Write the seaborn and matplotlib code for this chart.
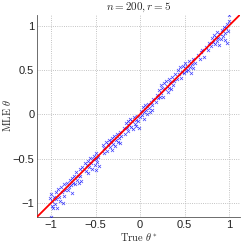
import matplotlib
matplotlib.use("Agg")
import matplotlib.pyplot as plt
import seaborn as sns
import pandas as pd

# true theta* vs MLE estimate
true_theta = [
    -1.00, -0.99, -0.98, -1.00, -0.97, -0.96, -0.95, -0.94, -0.93, -0.92,
    -0.91, -0.90, -0.89, -0.88, -0.87, -0.86, -0.85, -0.84, -1.01, -0.99,
    -0.82, -0.81, -0.80, -0.79, -0.78, -0.77, -0.76, -0.75, -0.74, -0.73,
    -0.72, -0.71, -0.70, -0.69, -0.68, -0.67, -0.66, -0.65,
    -0.62, -0.61, -0.60, -0.59, -0.58, -0.57, -0.56, -0.55, -0.54, -0.53,
    -0.52, -0.51, -0.50, -0.50, -0.49, -0.48, -0.47, -0.46,
    -0.42, -0.41, -0.40, -0.38, -0.37, -0.36, -0.35, -0.34, -0.33, -0.32,
    -0.31, -0.30, -0.29, -0.28, -0.27, -0.26, -0.25, -0.24, -0.23, -0.22, -0.21,
    -0.18, -0.17, -0.16, -0.15, -0.14, -0.13, -0.12, -0.11, -0.10, -0.09,
    -0.08, -0.07, -0.06, -0.05, -0.04, -0.03, -0.02, -0.01,
    0.00, 0.01, 0.02, 0.03, 0.04, 0.05, 0.06, 0.07, 0.08, 0.09,
    0.10, 0.11, 0.12, 0.13, 0.14, 0.15,
    0.18, 0.19, 0.20, 0.21, 0.22, 0.23, 0.24, 0.25, 0.26, 0.27,
    0.28, 0.29, 0.30, 0.31, 0.32, 0.33, 0.34, 0.35, 0.36, 0.37, 0.38, 0.39,
    0.42, 0.43, 0.44, 0.45, 0.46, 0.47, 0.48, 0.49, 0.50, 0.51,
    0.52, 0.53, 0.54, 0.55, 0.56, 0.57, 0.58, 0.59, 0.60, 0.62,
    0.65, 0.67, 0.68, 0.70, 0.72, 0.74, 0.76, 0.78,
    0.80, 0.81, 0.82, 0.83, 0.84, 0.85, 0.86, 0.87, 0.88, 0.89,
    0.90, 0.91, 0.92, 0.93, 0.94, 0.95, 0.96, 0.97, 0.98, 0.99,
    1.00, 1.00, 0.98,
]
mle_theta = [
    -0.90, -0.98, -1.06, -1.16, -0.93, -1.01, -0.88, -0.96, -1.06, -0.84,
    -0.93, -0.98, -0.82, -0.88, -1.00, -0.92, -0.79, -0.85, -0.95, -1.03,
    -0.77, -0.86, -0.82, -0.74, -0.80, -0.89, -0.72, -0.77, -0.70, -0.79,
    -0.65, -0.74, -0.70, -0.77, -0.62, -0.70, -0.75, -0.60,
    -0.55, -0.64, -0.57, -0.66, -0.53, -0.60, -0.49, -0.55, -0.62, -0.51,
    -0.47, -0.57, -0.50, -0.63, -0.44, -0.54, -0.48, -0.58,
    -0.35, -0.44, -0.38, -0.31, -0.42, -0.34, -0.29, -0.37, -0.30, -0.40,
    -0.27, -0.33, -0.25, -0.36, -0.29, -0.22, -0.31, -0.27, -0.20, -0.32, -0.24,
    -0.15, -0.22, -0.10, -0.16, -0.08, -0.19, -0.12, -0.05, -0.14, -0.08,
    -0.17, -0.03, -0.11, -0.07, -0.13, -0.02, -0.08, -0.15,
    -0.03, 0.04, -0.01, 0.08, 0.02, -0.05, 0.10, 0.05, 0.00, 0.12,
    0.07, 0.02, 0.14, 0.10, 0.05, 0.17,
    0.14, 0.22, 0.18, 0.27, 0.19, 0.33, 0.24, 0.30, 0.20, 0.35,
    0.28, 0.37, 0.32, 0.25, 0.40, 0.30, 0.36, 0.29, 0.42, 0.33, 0.38, 0.45,
    0.40, 0.50, 0.45, 0.53, 0.41, 0.48, 0.55, 0.46, 0.52, 0.58,
    0.49, 0.55, 0.50, 0.60, 0.53, 0.46, 0.57, 0.62, 0.52, 0.58,
    0.67, 0.62, 0.70, 0.73, 0.65, 0.76, 0.72, 0.80,
    0.77, 0.86, 0.82, 0.90, 0.79, 0.87, 0.83, 0.93, 0.86, 0.78,
    0.91, 0.85, 0.95, 0.88, 0.99, 0.92, 0.84, 0.97, 1.02, 0.94,
    1.05, 1.12, 0.80,
]

df = pd.DataFrame({"true": true_theta, "mle": mle_theta})

sns.set_style("white")
plt.rcParams["font.family"] = ["Liberation Sans", "DejaVu Sans"]
plt.rcParams["mathtext.fontset"] = "cm"

fig = plt.figure(figsize=(2.41, 2.42), dpi=100)
ax = fig.add_axes([0.154, 0.103, 0.842, 0.835])

sns.scatterplot(data=df, x="true", y="mle", marker="x", color="#0000ff",
                s=5, linewidth=0.5, alpha=0.75, ax=ax, zorder=3)
ax.axline((0, 0), slope=1, color="red", lw=1.3, zorder=4)

ax.set_xlim(-1.157, 1.124)
ax.set_ylim(-1.16, 1.12)
ax.set_xticks([-1, -0.5, 0, 0.5, 1])
ax.set_yticks([-1, -0.5, 0, 0.5, 1])
ax.set_xticklabels(["\u22121", "\u22120.5", "0", "0.5", "1"])
ax.set_yticklabels(["\u22121", "\u22120.5", "0", "0.5", "1"])
ax.tick_params(labelsize=8, direction="in", length=2.5, width=0.5,
               colors="#222222", pad=2)
ax.grid(True, linestyle=":", color="#b0b0b0", linewidth=0.6)

for s in ["top", "right"]:
    ax.spines[s].set_visible(False)
for s in ["left", "bottom"]:
    ax.spines[s].set_color("#555555")
    ax.spines[s].set_linewidth(0.6)

ax.set_title(r"$n = 200, r = 5$", fontsize=8, pad=4)
ax.set_xlabel(r"$\mathrm{True}\ \theta^*$", fontsize=7.5)
ax.set_ylabel(r"$\mathrm{MLE}\ \hat{\theta}$", fontsize=7.5)
ax.xaxis.set_label_coords(0.5, -0.068)
ax.yaxis.set_label_coords(-0.115, 0.5)

plt.savefig("out.png", dpi=100)
plt.close()
